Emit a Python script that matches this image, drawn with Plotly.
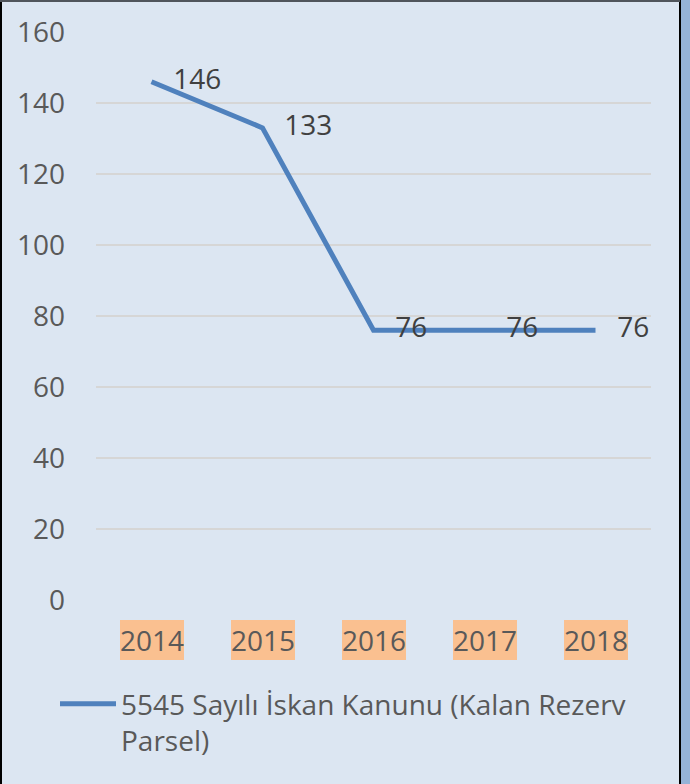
import plotly.graph_objects as go

years = ["2014", "2015", "2016", "2017", "2018"]
values = [146, 133, 76, 76, 76]
series_name = "5545 Sayılı İskan Kanunu (Kalan Rezerv<br>Parsel)"
y_ticks = [0, 20, 40, 60, 80, 100, 120, 140, 160]

FONT = "Open Sans"
FS = 28
BG = "#dce6f2"
W, H = 690, 784
L, R, T, B = 96, 39, 32, 184
PW, PH = W - L - R, H - T - B


def px_x(p):
    return (p - L) / PW


def px_y(p):
    return (H - B - p) / PH


fig = go.Figure()
fig.add_trace(go.Scatter(
    x=years, y=values, mode="lines+text", name=series_name,
    line=dict(color="#4f81bd", width=5),
    text=[str(v) for v in values],
    texttemplate="\u00a0\u00a0\u00a0%{text}",
    textposition="middle right",
    textfont=dict(family=FONT, size=FS, color="#404040"),
    cliponaxis=False,
    hoverinfo="skip",
))

for i, yr in enumerate(years):
    fig.add_annotation(
        x=i, xref="x", y=px_y(640), yref="paper", yanchor="middle",
        text=yr, showarrow=False, bgcolor="#fac090", borderpad=0,
        borderwidth=0, height=40,
        font=dict(family=FONT, size=FS, color="#595959"),
    )

shapes = [
    dict(type="rect", xref="paper", yref="paper", x0=px_x(681), x1=px_x(691),
         y0=px_y(785), y1=px_y(-1), fillcolor="#95b3d7", line=dict(width=0), layer="below"),
    dict(type="line", xref="paper", yref="paper", x0=px_x(1), x1=px_x(1),
         y0=px_y(785), y1=px_y(-1), line=dict(color="#000000", width=2)),
    dict(type="line", xref="paper", yref="paper", x0=px_x(680), x1=px_x(680),
         y0=px_y(785), y1=px_y(-1), line=dict(color="#000000", width=2)),
    dict(type="line", xref="paper", yref="paper", x0=px_x(0), x1=px_x(680),
         y0=px_y(1), y1=px_y(1), line=dict(color="#50555c", width=2)),
]

fig.update_layout(
    width=W, height=H,
    margin=dict(l=L, r=R, t=T, b=B, pad=0),
    paper_bgcolor=BG, plot_bgcolor=BG,
    font=dict(family=FONT, size=FS, color="#595959"),
    showlegend=True,
    legend=dict(
        x=px_x(55), xanchor="left", y=px_y(679), yanchor="top",
        bgcolor="rgba(0,0,0,0)", valign="top",
        font=dict(family=FONT, size=FS, color="#595959"),
        itemwidth=56,
    ),
    shapes=shapes,
    xaxis=dict(
        type="category", showticklabels=False, showgrid=False,
        showline=False, zeroline=False, range=[-0.5, 4.5],
    ),
    yaxis=dict(
        range=[0, 160], tickvals=y_ticks, showgrid=True,
        gridcolor="#d6d6d6", gridwidth=2, zeroline=False, showline=False,
        ticklabelstandoff=30,
        tickfont=dict(family=FONT, size=FS, color="#595959"),
    ),
)

fig.write_html("out.html", config={"displayModeBar": False},
               post_script="document.body.style.margin='0';")
